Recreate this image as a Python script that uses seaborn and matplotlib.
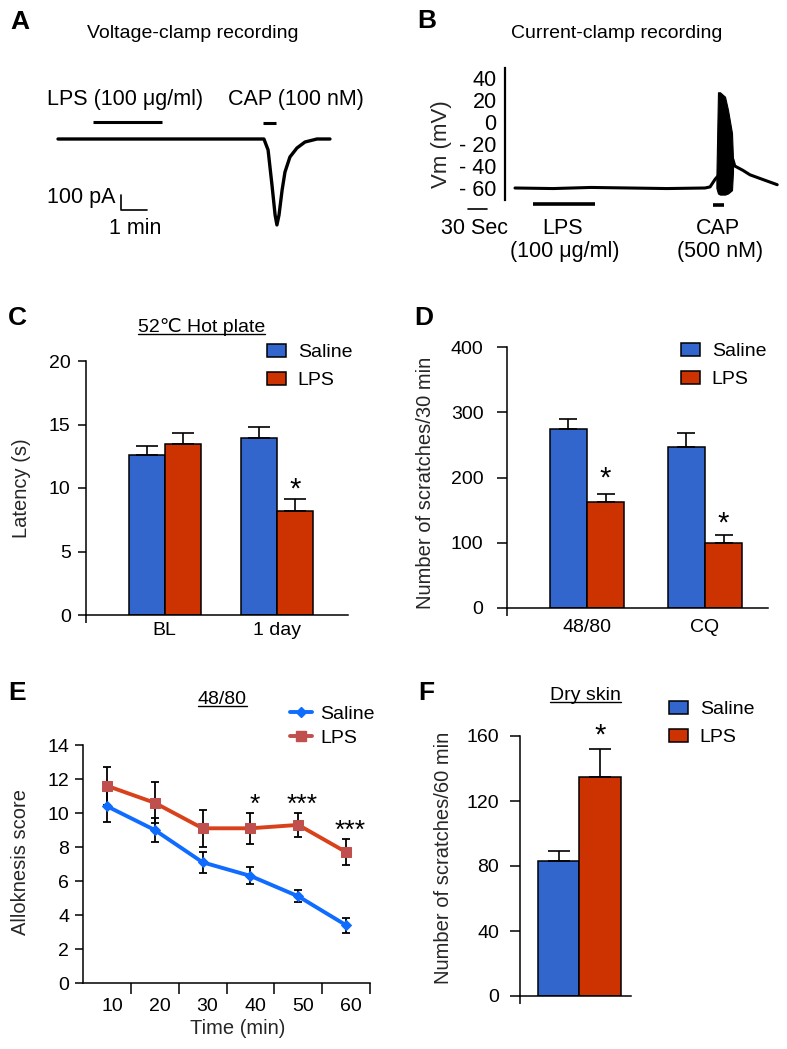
import matplotlib
matplotlib.use("Agg")
import matplotlib.pyplot as plt
from matplotlib.lines import Line2D
from matplotlib.patches import Patch
from matplotlib.transforms import ScaledTranslation
import pandas as pd
import seaborn as sns

# ---------------- data ----------------
# A: voltage-clamp trace (min, pA)
vc_time = [0, 7.92, 8.08, 8.23, 8.35, 8.42, 8.5, 8.62, 8.73, 8.92, 9.19, 9.5, 9.96, 10.46]
vc_current = [0, 0, -73, -307, -507, -573, -507, -340, -220, -120, -60, -20, 0, 0]
vc_lps_on = [1.35, 4.0]
vc_cap_on = [7.9, 8.4]

# B: current-clamp trace (s, mV)
cc_time = [0, 60, 120, 180, 240, 300, 308, 316, 344, 347, 360, 371, 390, 414]
cc_vm = [-60, -60.5, -59.5, -60, -60.5, -60, -59, -52, -34, -40, -44, -48, -52, -57]
burst_time = [318, 320.5, 323.7, 331.6, 336.3, 342.6, 344.2]
burst_top = [-50, 27, 27, 23, 11, -10, -34]
burst_bottom = [-60, -65, -66, -66, -65, -62, -45]
cc_lps_on = [28, 126]
cc_cap_on = [313, 330]
cc_ticks = [40, 20, 0, -20, -40, -60]
cc_ticklabels = ["40", "20", "0", "- 20", "- 40", "- 60"]

# C: hot plate latency
c_groups = ["BL", "1 day"]
c_saline = [12.6, 13.9]
c_saline_sem = [0.7, 0.9]
c_lps = [13.5, 8.2]
c_lps_sem = [0.8, 0.9]
c_stars = ["", "*"]

# D: scratches / 30 min
d_groups = ["48/80", "CQ"]
d_saline = [274, 247]
d_saline_sem = [16, 21]
d_lps = [162, 100]
d_lps_sem = [13, 12]
d_stars = ["*", "*"]

# E: alloknesis score
e_time = [10, 20, 30, 40, 50, 60]
e_saline = [10.4, 9.0, 7.1, 6.3, 5.1, 3.4]
e_saline_sem = [0.9, 0.7, 0.6, 0.5, 0.35, 0.45]
e_lps = [11.6, 10.6, 9.1, 9.1, 9.3, 7.7]
e_lps_sem = [1.1, 1.2, 1.1, 0.9, 0.7, 0.75]
e_stars = ["", "", "", "*", "***", "***"]

# F: dry skin scratches / 60 min
f_groups = ["Dry skin"]
f_saline = [83]
f_saline_sem = [6]
f_lps = [135]
f_lps_sem = [17]
f_stars = ["*"]

BLUE = "#3366cc"
RED = "#cc3300"
E_BLUE = "#0f6cff"
E_RED = "#d9411b"
E_RED_MK = "#c0504d"

sns.set_style("ticks")
plt.rcParams["font.family"] = ["Liberation Sans", "DejaVu Sans"]
plt.rcParams["axes.linewidth"] = 1.1
plt.rcParams["axes.edgecolor"] = "black"
plt.rcParams["xtick.color"] = "black"
plt.rcParams["ytick.color"] = "black"
plt.rcParams["text.color"] = "black"

W, H = 787, 1049
fig = plt.figure(figsize=(W / 100, H / 100), dpi=100)


def ax_px(left, top, right, bottom):
    return fig.add_axes([left / W, 1 - bottom / H, (right - left) / W, (bottom - top) / H])


def ftext(x, y, s, **kw):
    return fig.text(x / W, 1 - y / H, s, **kw)


def underlined_title(x, y, s, size=14):
    t = ftext(x, y, s, ha="center", va="baseline", fontsize=size)
    fig.canvas.draw()
    bb = t.get_window_extent()
    yy = 1 - (y + 2) / H
    fig.add_artist(Line2D([bb.x0 / W, bb.x1 / W], [yy, yy], color="black", lw=1.0))


def bar_panel(ax, groups, sal, sal_err, lps, lps_err, width, stars, star_off, cap):
    df = pd.DataFrame({
        "group": groups * 2,
        "treatment": ["Saline"] * len(groups) + ["LPS"] * len(groups),
        "value": sal + lps,
    })
    sns.barplot(data=df, x="group", y="value", hue="treatment", hue_order=["Saline", "LPS"],
                palette=[BLUE, RED], width=width, errorbar=None, saturation=1,
                edgecolor="black", linewidth=1.1, legend=False, ax=ax)
    for cont, err in zip(ax.containers, [sal_err, lps_err]):
        xs = [b.get_x() + b.get_width() / 2 for b in cont]
        ys = [b.get_height() for b in cont]
        ax.errorbar(xs, ys, yerr=[[0] * len(err), err], fmt="none", ecolor="black",
                    elinewidth=1.2, capsize=cap, capthick=1.2, zorder=1)
    lps_cont = ax.containers[1]
    for b, e, s, off in zip(lps_cont, lps_err, stars, star_off):
        if s:
            ax.annotate(s, (b.get_x() + b.get_width() / 2, b.get_height() + e),
                        xytext=(0, off), textcoords="offset points",
                        ha="center", va="center", fontsize=21)
    sns.despine(ax=ax)
    ax.set_xlabel("")
    ax.tick_params(axis="x", which="major", length=0, labelsize=14, pad=5)
    ax.tick_params(axis="y", length=6, width=1.1, labelsize=14, pad=7)


def bar_legend(ax, x, y):
    handles = [Patch(facecolor=BLUE, edgecolor="black", lw=1.1, label="Saline"),
               Patch(facecolor=RED, edgecolor="black", lw=1.1, label="LPS")]
    ax.legend(handles=handles, loc="upper left", bbox_to_anchor=(x / W, 1 - y / H),
              bbox_transform=fig.transFigure, frameon=False, fontsize=14,
              handlelength=0.98, handleheight=0.62, handletextpad=0.6,
              labelspacing=0.57, borderpad=0, borderaxespad=0)


# ---------------- A ----------------
axA = ax_px(0, 40, 400, 260)
axA.set_xlim(-58 / 26, 342 / 26)
axA.set_ylim(-121 / 0.15, 99 / 0.15)
axA.axis("off")
sns.lineplot(x=vc_time, y=vc_current, estimator=None, color="black", lw=2.4, ax=axA)
axA.plot(vc_lps_on, [113, 113], color="black", lw=2.2, solid_capstyle="butt")
axA.plot(vc_cap_on, [107, 107], color="black", lw=2.2, solid_capstyle="butt")
axA.plot([2.42, 2.42, 3.42], [-373, -473, -473], color="black", lw=1.2)
axA.text(2.58, 260, "LPS (100 μg/ml)", ha="center", va="center", fontsize=15.5)
axA.text(9.17, 260, "CAP (100 nM)", ha="center", va="center", fontsize=15.5)
axA.text(2.2, -387, "100 pA", ha="right", va="center", fontsize=15.5)
axA.text(2.96, -600, "1 min", ha="center", va="center", fontsize=15.5)
ftext(193, 34, "Voltage-clamp recording", ha="center", va="center", fontsize=14)
ftext(20, 22, "A", ha="center", va="center", fontsize=19, fontweight="bold")

# ---------------- B ----------------
axB = ax_px(505, 68, 785, 200)
sns.lineplot(x=cc_time, y=cc_vm, estimator=None, color="black", lw=2.2, ax=axB)
axB.fill_between(burst_time, burst_bottom, burst_top, color="black", lw=0.8)
axB.set_xlim(-10 * 30 / 19, 270 * 30 / 19)
axB.set_ylim(40 - 132 / 1.1 + 10 / 1.1, 40 + 10 / 1.1)
axB.set_yticks(cc_ticks)
axB.set_yticklabels(cc_ticklabels)
axB.set_xticks([])
axB.tick_params(axis="y", length=0, labelsize=15.5, pad=6)
sns.despine(ax=axB, bottom=True)
axB.spines["left"].set_linewidth(1.6)
axB.set_ylabel("Vm (mV)", fontsize=16)
axB.yaxis.set_label_coords(-0.189, 0.42)
axB.plot([-74, -44], [-79, -79], color="black", lw=1.2, clip_on=False)
axB.plot(cc_lps_on, [-74.5, -74.5], color="black", lw=2.6, clip_on=False, solid_capstyle="butt")
axB.plot(cc_cap_on, [-75.5, -75.5], color="black", lw=2.6, clip_on=False, solid_capstyle="butt")
for tx, ty, s in [(-64.7, -96.4, "30 Sec"), (75.8, -96.4, "LPS"), (79, -118, "(100 μg/ml)"),
                  (320.5, -96.4, "CAP"), (323.7, -118, "(500 nM)")]:
    axB.text(tx, ty, s, ha="center", va="center", fontsize=15.5, clip_on=False)
ftext(617, 34, "Current-clamp recording", ha="center", va="center", fontsize=14)
ftext(427, 21, "B", ha="center", va="center", fontsize=19, fontweight="bold")

# ---------------- C ----------------
axC = ax_px(86, 361, 348, 615)
bar_panel(axC, c_groups, c_saline, c_saline_sem, c_lps, c_lps_sem, 0.64, c_stars, [7, 7], 8)
axC.set_xlim(-0.70, 1.63)
axC.set_ylim(0, 20)
axC.set_yticks([0, 5, 10, 15, 20])
axC.set_xticks([-0.70], minor=True)
axC.tick_params(axis="x", which="minor", length=6, width=1.1)
axC.tick_params(axis="y", pad=5)
axC.set_ylabel("Latency (s)", fontsize=14.5)
axC.yaxis.set_label_coords(-0.21, 0.5)
bar_legend(axC, 267, 344)
underlined_title(201.5, 331.5, "52℃ Hot plate", 14)
ftext(17, 318, "C", ha="center", va="center", fontsize=19, fontweight="bold")

# ---------------- D ----------------
axD = ax_px(507, 347, 768, 608)
bar_panel(axD, d_groups, d_saline, d_saline_sem, d_lps, d_lps_sem, 0.63, d_stars, [11, 8], 6.5)
axD.set_xlim(-0.678, 1.534)
axD.set_ylim(0, 400)
axD.set_yticks([0, 100, 200, 300, 400])
axD.set_xticks([-0.678], minor=True)
axD.tick_params(axis="x", which="minor", length=6, width=1.1)
axD.tick_params(axis="x", which="major", pad=8)
axD.tick_params(axis="y", length=7, pad=10)
axD.set_ylabel("Number of scratches/30 min", fontsize=14.5)
axD.yaxis.set_label_coords(-0.276, 0.48)
bar_legend(axD, 681, 343)
ftext(424, 318, "D", ha="center", va="center", fontsize=19, fontweight="bold")

# ---------------- E ----------------
axE = ax_px(83, 745, 370, 983)
df_e = pd.DataFrame({
    "time": e_time * 2,
    "score": e_saline + e_lps,
    "group": ["Saline"] * len(e_time) + ["LPS"] * len(e_time),
})
axE.errorbar(e_time, e_saline, yerr=e_saline_sem, fmt="none", ecolor="black",
             elinewidth=1.3, capsize=3, capthick=1.3, zorder=1)
axE.errorbar(e_time, e_lps, yerr=e_lps_sem, fmt="none", ecolor="black",
             elinewidth=1.3, capsize=3, capthick=1.3, zorder=1)
sns.lineplot(data=df_e, x="time", y="score", hue="group", style="group",
             hue_order=["Saline", "LPS"], style_order=["Saline", "LPS"],
             palette=[E_BLUE, E_RED], markers=["D", "s"], dashes=False,
             lw=2.8, estimator=None, legend=False, ax=axE, zorder=2)
for ln, mc, ms in zip(axE.lines[-2:], [E_BLUE, E_RED_MK], [5, 7.5]):
    ln.set_markerfacecolor(mc)
    ln.set_markeredgecolor(mc)
    ln.set_markersize(ms)
for t, v, e, s in zip(e_time, e_lps, e_lps_sem, e_stars):
    if s:
        axE.annotate(s, (t, v + e), xytext=(3, 6), textcoords="offset points",
                     ha="center", va="center", fontsize=19)
axE.set_xlim(5, 65)
axE.set_ylim(0, 14)
axE.set_xticks(e_time)
axE.set_xticks([t + 5 for t in e_time], minor=True)
axE.set_yticks(range(0, 15, 2))
axE.tick_params(axis="x", which="major", length=0, labelsize=14, pad=11)
axE.tick_params(axis="x", which="minor", length=8, width=1.1)
axE.tick_params(axis="y", length=6, width=1.1, labelsize=14, pad=4)
shift = ScaledTranslation(5 / 100, 0, fig.dpi_scale_trans)
for lab in axE.get_xticklabels():
    lab.set_transform(lab.get_transform() + shift)
sns.despine(ax=axE)
axE.set_xlabel("Time (min)", fontsize=14.5)
axE.xaxis.set_label_coords(0.54, -0.151)
axE.set_ylabel("Alloknesis score", fontsize=14.5)
axE.yaxis.set_label_coords(-0.185, 0.51)
e_handles = [Line2D([], [], color=E_BLUE, lw=2.8, marker="D", ms=5, mfc=E_BLUE, mec=E_BLUE, label="Saline"),
             Line2D([], [], color=E_RED_MK, lw=2.8, marker="s", ms=7, mfc=E_RED_MK, mec=E_RED_MK, label="LPS")]
axE.legend(handles=e_handles, loc="upper left", bbox_to_anchor=(290 / W, 1 - 705 / H),
           bbox_transform=fig.transFigure, frameon=False, fontsize=14,
           handlelength=1.15, handletextpad=0.4, labelspacing=0.35, borderpad=0, borderaxespad=0)
underlined_title(222.5, 704, "48/80", 14)
ftext(17, 693, "E", ha="center", va="center", fontsize=19, fontweight="bold")

# ---------------- F ----------------
axF = ax_px(520, 736, 631, 996)
bar_panel(axF, f_groups, f_saline, f_saline_sem, f_lps, f_lps_sem, 0.8, f_stars, [10], 8)
axF.set_xlim(-0.573, 0.496)
axF.set_ylim(0, 160)
axF.set_yticks([0, 40, 80, 120, 160])
axF.set_xticks([])
axF.set_xticks([-0.573], minor=True)
axF.tick_params(axis="x", which="minor", length=6, width=1.1)
axF.tick_params(axis="y", length=7, pad=8)
axF.set_ylabel("Number of scratches/60 min", fontsize=14.5)
axF.yaxis.set_label_coords(-0.608, 0.53)
bar_legend(axF, 669, 701)
underlined_title(585.5, 700, "Dry skin", 14)
ftext(426, 693, "F", ha="center", va="center", fontsize=19, fontweight="bold")

fig.savefig("out.png", dpi=100)
